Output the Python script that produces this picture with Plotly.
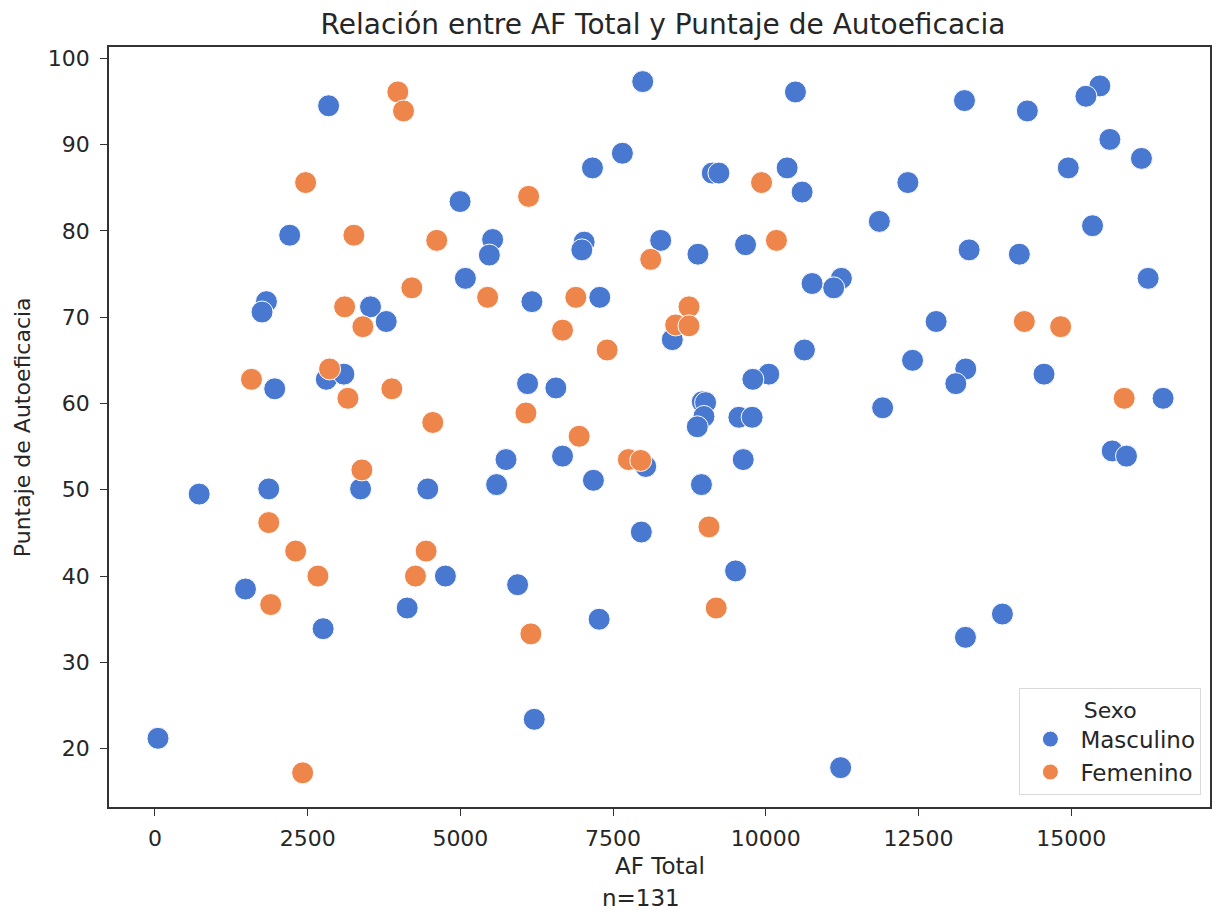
import plotly.graph_objects as go

# AF Total (x) and Puntaje de Autoeficacia (y), split by Sexo
af_masc = [2843, 4995, 2206, 5082, 1825, 1753, 3529, 3786, 7985, 10485,
           7652, 7162, 9123, 9232, 10349, 10594, 5528, 5474, 7026, 6988,
           8279, 8889, 9668, 10757, 6171, 7282, 8469, 15468, 15240, 13252,
           14281, 15632, 16149, 14951, 12325, 11858, 15348, 13328, 14150, 16258,
           11237, 11111, 12788, 2805, 3093, 1961, 724, 1863, 3366, 4466,
           4755, 1482, 4129, 2753, 10632, 6100, 6563, 10049, 9788, 8960,
           9014, 8987, 8878, 9559, 9776, 5747, 5593, 6672, 7178, 8034,
           9630, 8946, 7962, 9505, 5937, 7271, 12402, 13273, 13110, 14554,
           11912, 16503, 15670, 15904, 13873, 50, 11225, 6209, 13268]
punt_masc = [94.5, 83.4, 79.5, 74.5, 71.8, 70.6, 71.2, 69.5, 97.3, 96.1,
             89.0, 87.3, 86.7, 86.7, 87.3, 84.5, 79.0, 77.2, 78.7, 77.8,
             78.9, 77.3, 78.4, 73.9, 71.8, 72.3, 67.4, 96.8, 95.6, 95.1,
             93.9, 90.6, 88.4, 87.3, 85.6, 81.1, 80.6, 77.8, 77.3, 74.5,
             74.5, 73.4, 69.5, 62.8, 63.4, 61.7, 49.5, 50.1, 50.1, 50.1,
             40.0, 38.5, 36.3, 33.9, 66.2, 62.3, 61.8, 63.4, 62.8, 60.2,
             60.1, 58.5, 57.3, 58.4, 58.4, 53.5, 50.6, 53.9, 51.1, 52.7,
             53.5, 50.6, 45.1, 40.6, 39.0, 35.0, 65.0, 64.0, 62.3, 63.4,
             59.5, 60.6, 54.5, 53.9, 35.6, 21.2, 17.8, 23.4, 32.9]

af_fem = [3976, 4069, 2467, 3257, 4613, 4205, 3105, 3404, 9930, 6117,
          8116, 10174, 5446, 6890, 6672, 8742, 8524, 8742, 7402, 14232,
          14826, 2859, 1580, 3159, 3878, 4548, 3388, 1863, 2304, 4439,
          2668, 4265, 1895, 6073, 6944, 7750, 7952, 9069, 9188, 15866,
          6154, 2418]
punt_fem = [96.1, 93.9, 85.6, 79.5, 78.9, 73.4, 71.2, 68.9, 85.6, 84.0,
            76.7, 78.9, 72.3, 72.3, 68.5, 71.2, 69.1, 69.0, 66.2, 69.5,
            68.9, 64.0, 62.8, 60.6, 61.7, 57.8, 52.3, 46.2, 42.9, 42.9,
            40.0, 40.0, 36.7, 58.9, 56.2, 53.5, 53.4, 45.7, 36.3, 60.6,
            33.3, 17.2]

x_ticks = [0, 2500, 5000, 7500, 10000, 12500, 15000]
y_ticks = [20, 30, 40, 50, 60, 70, 80, 90, 100]

n_total = len(af_masc) + len(af_fem)

FONT = "DejaVu Sans"
TEXT = "#262626"
BLUE = "#4878d0"
ORANGE = "#ee854a"

fig = go.Figure()
fig.add_trace(go.Scatter(
    x=af_masc, y=punt_masc, mode="markers", name="Masculino",
    marker=dict(size=22, color=BLUE, line=dict(color="white", width=1)),
))
fig.add_trace(go.Scatter(
    x=af_fem, y=punt_fem, mode="markers", name="Femenino",
    marker=dict(size=22, color=ORANGE, line=dict(color="white", width=1)),
))

axis_common = dict(
    showgrid=False, zeroline=False, showline=True, mirror=True,
    linecolor="#333333", linewidth=1.6,
    ticks="outside", ticklen=7, tickwidth=1.4, tickcolor="#333333",
    tickfont=dict(family=FONT, size=22, color=TEXT),
)

fig.update_layout(
    width=1215, height=911,
    margin=dict(l=109, r=3, t=47, b=104),
    paper_bgcolor="white", plot_bgcolor="white",
    font=dict(family=FONT, color=TEXT),
    showlegend=True,
    title=dict(
        text="Relación entre AF Total y Puntaje de Autoeficacia",
        x=(663 - 0) / 1215, xref="container", xanchor="center",
        y=1 - 24 / 911, yanchor="middle",
        font=dict(family=FONT, size=28, color=TEXT),
    ),
    xaxis=dict(axis_common, range=[-752, 17271], tickvals=x_ticks,
               ticktext=[str(v) for v in x_ticks], ticklabelstandoff=4),
    yaxis=dict(axis_common, range=[13.24, 101.31], tickvals=y_ticks,
               ticktext=[str(v) for v in y_ticks], ticklabelstandoff=6),
    legend=dict(
        x=0.992, y=0.016, xanchor="right", yanchor="bottom",
        bgcolor="white", bordercolor="#d9d9d9", borderwidth=1.2,
        font=dict(family=FONT, size=23, color=TEXT),
        title=dict(text="Sexo", side="top center",
                   font=dict(family=FONT, size=22, color=TEXT)),
        itemsizing="trace", itemwidth=50, tracegroupgap=4,
    ),
    annotations=[
        dict(text="AF Total", xref="paper", yref="paper",
             x=0.5, y=(807 - 866) / 760, xanchor="center", yanchor="middle",
             showarrow=False, font=dict(family=FONT, size=23, color=TEXT)),
        dict(text=f"n={n_total}", xref="paper", yref="paper",
             x=(642 - 109) / 1103, y=(807 - 898) / 760,
             xanchor="center", yanchor="middle",
             showarrow=False, font=dict(family=FONT, size=23, color=TEXT)),
        dict(text="Puntaje de Autoeficacia", xref="paper", yref="paper",
             x=(22 - 109) / 1103, y=0.5, textangle=-90,
             xanchor="center", yanchor="middle",
             showarrow=False, font=dict(family=FONT, size=22, color=TEXT)),
    ],
)

fig.write_html("out.html")
